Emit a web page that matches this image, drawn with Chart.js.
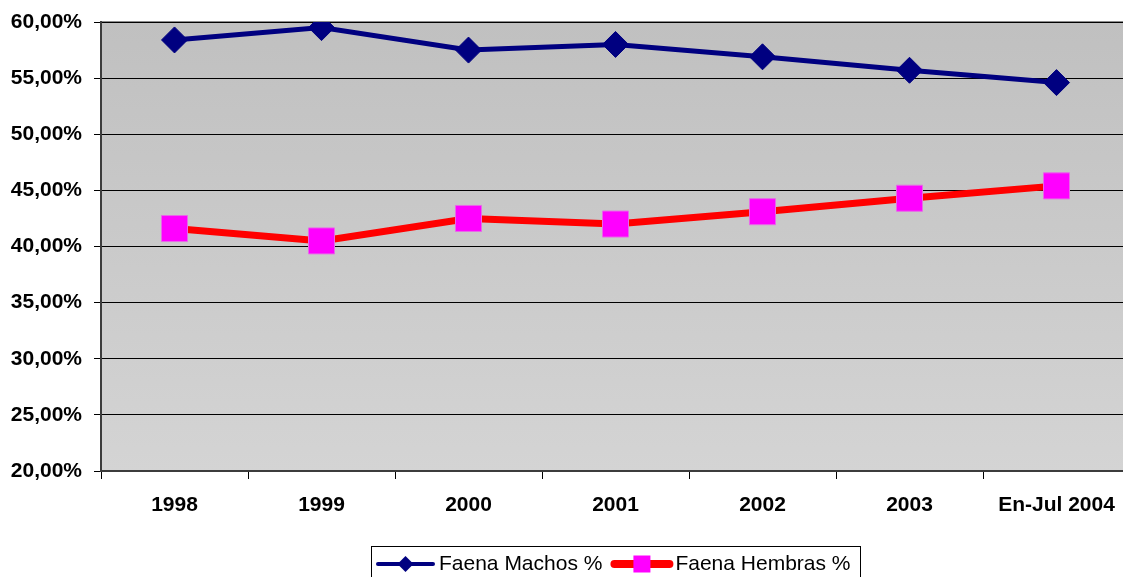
<!DOCTYPE html>
<html>
<head>
<meta charset="utf-8">
<title>Faena Machos / Hembras</title>
<script src="https://cdn.jsdelivr.net/npm/chart.js"></script>
<style>
    html, body { margin: 0; padding: 0; background: #fff; overflow: hidden; }
    #myChart { display: block; }
</style>
</head>
<body>
<canvas id="myChart" width="1131" height="577"></canvas>
<script>
// datos
const years = ['1998', '1999', '2000', '2001', '2002', '2003', 'En-Jul 2004'];
const machos = [58.4, 59.5, 57.5, 58.0, 56.9, 55.7, 54.6];
const hembras = [41.6, 40.5, 42.5, 42.0, 43.1, 44.3, 45.4];
const yTicks = [20, 25, 30, 35, 40, 45, 50, 55, 60];

const FONT = "'Liberation Sans', Arial, sans-serif";

// fondo gris degradado del area del grafico
const plotBackground = {
    id: 'plotBackground',
    beforeDraw(chart) {
        const { ctx, chartArea: a } = chart;
        const g = ctx.createLinearGradient(0, a.top, 0, a.bottom);
        g.addColorStop(0, '#c0c0c0');
        g.addColorStop(1, '#d4d4d4');
        ctx.save();
        ctx.fillStyle = g;
        ctx.fillRect(a.left, a.top, a.right - a.left, a.bottom - a.top);
        ctx.strokeStyle = '#8c8c8c';
        ctx.lineWidth = 2;
        ctx.beginPath();
        ctx.moveTo(a.left, a.top);
        ctx.lineTo(a.right, a.top);
        ctx.stroke();
        ctx.restore();
    }
};

// leyenda abajo con linea + marcador, como en Excel
const bottomLegend = {
    id: 'bottomLegend',
    afterDraw(chart) {
        const ctx = chart.ctx;
        const sets = chart.data.datasets;
        const top = 546, cy = 564;
        let x = 376;
        ctx.save();
        ctx.strokeStyle = '#000';
        ctx.lineWidth = 1;
        ctx.strokeRect(371.5, top + 0.5, 489, 60);
        ctx.font = '21px ' + FONT;
        ctx.textBaseline = 'middle';
        sets.forEach((ds, i) => {
            const len = 59;
            ctx.strokeStyle = ds.borderColor;
            ctx.lineWidth = i === 0 ? 4 : 8;
            ctx.lineCap = 'round';
            ctx.beginPath();
            ctx.moveTo(x + 2, cy);
            ctx.lineTo(x + len - 2, cy);
            ctx.stroke();
            const mx = x + len / 2;
            ctx.fillStyle = ds.pointBackgroundColor;
            ctx.beginPath();
            if (ds.pointStyle === 'rectRot') {
                ctx.moveTo(mx - 8, cy);
                ctx.lineTo(mx, cy - 8);
                ctx.lineTo(mx + 8, cy);
                ctx.lineTo(mx, cy + 8);
                ctx.closePath();
            } else {
                ctx.rect(mx - 8.5, cy - 8.5, 17, 17);
            }
            ctx.fill();
            ctx.fillStyle = '#000';
            ctx.fillText(ds.label, x + len + 4, cy);
            x = x + len + 4 + ctx.measureText(ds.label).width + 10;
        });
        ctx.restore();
    }
};

const ctx = document.getElementById('myChart').getContext('2d');

const myChart = new Chart(ctx, {
    type: 'line',
    data: {
        labels: years,
        datasets: [{
            label: 'Faena Machos %',
            data: machos,
            borderColor: '#000080',
            backgroundColor: '#000080',
            borderWidth: 5,
            pointStyle: 'rectRot',
            pointRadius: 13,
            pointBackgroundColor: '#000080',
            pointBorderColor: '#000080',
            pointBorderWidth: 1,
            tension: 0
        }, {
            label: 'Faena Hembras %',
            data: hembras,
            borderColor: '#ff0000',
            backgroundColor: '#ff0000',
            borderWidth: 7,
            pointStyle: 'rect',
            pointRadius: 18.4,
            pointBackgroundColor: '#ff00ff',
            pointBorderColor: '#e868e8',
            pointBorderWidth: 1,
            tension: 0
        }]
    },
    options: {
        responsive: false,
        maintainAspectRatio: false,
        animation: false,
        events: [],
        layout: {
            autoPadding: false,
            padding: { top: 22, right: 1, left: 0, bottom: 0 }
        },
        plugins: {
            legend: { display: false },
            tooltip: { enabled: false }
        },
        scales: {
            x: {
                offset: true,
                grid: {
                    offset: true,
                    drawOnChartArea: false,
                    drawTicks: true,
                    tickLength: 8,
                    tickColor: '#000'
                },
                border: { display: true, color: '#3c3c3c', width: 2 },
                ticks: {
                    color: '#000',
                    padding: 14,
                    maxRotation: 0,
                    font: { family: FONT, size: 21, weight: 'bold' }
                },
                afterFit(scale) {
                    scale.height = 106;
                    scale.paddingLeft = 0;
                    scale.paddingRight = 0;
                }
            },
            y: {
                min: 20,
                max: 60,
                afterBuildTicks(scale) {
                    scale.ticks = yTicks.map(v => ({ value: v }));
                },
                grid: {
                    color: '#000',
                    lineWidth: 1,
                    tickLength: 7,
                    tickColor: '#000'
                },
                border: { display: true, color: '#3c3c3c', width: 2 },
                ticks: {
                    color: '#000',
                    padding: 12,
                    font: { family: FONT, size: 21, weight: 'bold' },
                    callback: v => v.toFixed(2).replace('.', ',') + '%'
                },
                afterFit(scale) {
                    scale.width = 101;
                    scale.paddingTop = 0;
                    scale.paddingBottom = 0;
                }
            }
        }
    },
    plugins: [plotBackground, bottomLegend]
});
</script>
</body>
</html>
